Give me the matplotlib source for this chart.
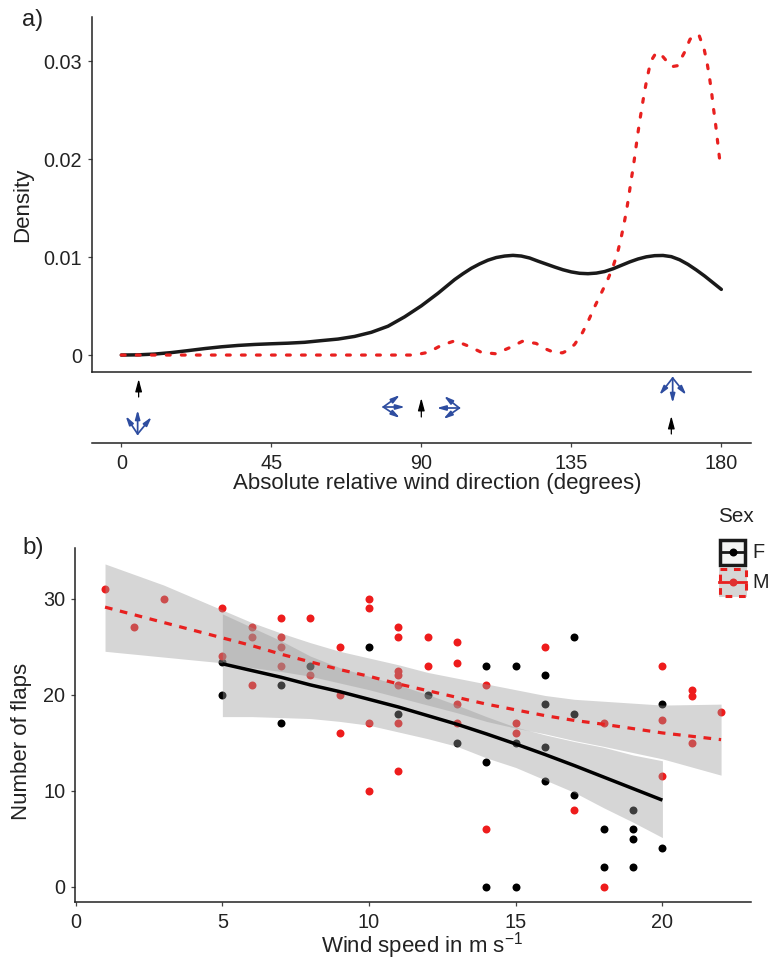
#!/usr/bin/env python3
# Wind direction densities (a) and flap counts against wind speed (b)

import matplotlib
matplotlib.use("Agg")
import matplotlib.pyplot as plt
from matplotlib.patches import Rectangle

plt.rcParams["font.family"] = ["Liberation Sans", "DejaVu Sans"]
plt.rcParams["mathtext.default"] = "regular"

W, H = 769, 960
BLACK = "#1a1a1a"
RED = "#e8201f"
BLUE = "#2e4da0"
TEXT = "#222222"
FS = 14.3
TITLE_FS = 16

# a) density curves
dir_f = [0, 5, 10, 15, 20, 25, 30, 35, 40, 45, 50, 55, 60, 65, 70, 75, 80, 85, 90, 95, 100, 102.5,
         105, 107.5, 110, 112.5, 115, 117.5, 120, 122.5, 125, 127.5, 130, 132.5, 135, 137.5, 140,
         142.5, 145, 147.5, 150, 152.5, 155, 157.5, 160, 162.5, 165, 167.5, 170, 172.5, 175, 177.5, 180]
dens_f = [0, 0.00002, 0.0001, 0.00025, 0.00045, 0.00066, 0.00084, 0.00098, 0.00108, 0.00115, 0.00121,
          0.0013, 0.00147, 0.00163, 0.0019, 0.00232, 0.00294, 0.0039, 0.00502, 0.0063, 0.0077, 0.0083,
          0.00885, 0.0093, 0.00968, 0.00995, 0.0101, 0.01017, 0.0101, 0.0099, 0.00958, 0.00928, 0.00898,
          0.0087, 0.00848, 0.00834, 0.0083, 0.00836, 0.00852, 0.0088, 0.00915, 0.0095, 0.0098,
          0.01002, 0.01014, 0.01016, 0.01004, 0.00972, 0.00925, 0.00868, 0.00806, 0.00738, 0.0067]
dir_m = [0, 30, 60, 87.9, 92.1, 96, 100.1, 104.1, 108, 112.3, 116.4, 120.3, 124.4, 127.6, 130.1,
         132.4, 134.1, 136, 138.4, 140.3, 142.1, 144, 145.9, 147.5, 148.9, 149.9, 150.8, 151.6,
         152.3, 152.9, 153.6, 154.2, 154.8, 155.4, 156.1, 156.8, 157.6, 158.5, 159.4, 160.4,
         161.6, 163.5, 165.1, 166.8, 168.9, 170.6, 172.1, 173.4, 174.9, 175.8, 176.5, 177.1,
         177.6, 178.2, 178.7, 179.2, 179.7, 180]
dens_m = [0, 0, 0, 0, 0.00028, 0.00099, 0.00146, 0.00092, 0.00028, 0.00013, 0.00074, 0.0014, 0.00119,
          0.00058, 0.00023, 0.00023, 0.00051, 0.00109, 0.00232, 0.00364, 0.005, 0.00633, 0.00768,
          0.00901, 0.01048, 0.01191, 0.01337, 0.01483, 0.01633, 0.01776, 0.01921, 0.02071, 0.02221,
          0.02364, 0.0251, 0.02656, 0.02803, 0.02946, 0.03028, 0.03082, 0.03079, 0.03003, 0.02942,
          0.02952, 0.03085, 0.03221, 0.03272, 0.03255, 0.03112, 0.02966, 0.0282, 0.02673, 0.02528,
          0.02378, 0.02232, 0.02082, 0.01936, 0.019]

# arrows under panel a: bird heading (black), wind fans (blue)
bird_x = [5.2, 90, 165]
bird_y = [[46, 64], [26, 45], [9, 27]]
fan_origin_x = [4.9, 78.6, 101.4, 165.4]
fan_origin_y = [9, 36, 35, 65]
fan_head_x = [[4.9, 1.3, 9.1], [85.1, 83.6, 83.6], [94.6, 96.8, 96.6], [165.4, 161.4, 169.5]]
fan_head_y = [[33, 27, 26], [36, 48, 25], [35, 47, 24], [40, 48, 48]]

# b) points
speed_f = [5, 5, 7, 7, 8, 10, 11, 12, 13, 14, 14, 14, 15, 15, 15, 16, 16, 16, 16, 17, 17, 17,
           18, 18, 19, 19, 19, 19, 20, 20]
flaps_f = [23.4, 20, 21, 17, 23, 25, 18, 20, 15, 23, 13, 0, 23, 15, 0, 22, 19, 14.5, 11, 26, 18,
           9.5, 6, 2, 8, 6, 5, 2, 19, 4]
speed_m = [1, 2, 3, 5, 5, 6, 6, 6, 7, 7, 7, 7, 8, 8, 9, 9, 9, 10, 10, 10, 10, 11, 11, 11, 11, 11,
           11, 11, 12, 12, 13, 13, 13, 13, 14, 14, 15, 15, 16, 17, 18, 18, 20, 20, 20, 21, 21, 21, 22]
flaps_m = [31, 27, 30, 29, 24, 27, 26, 21, 28, 26, 25, 23, 28, 22, 25, 20, 16, 30, 29, 17, 10, 27,
           26, 22.5, 22, 21, 17, 12, 26, 23, 25.5, 23.3, 19, 17, 21, 6, 17, 16, 25, 8, 17, 0, 23,
           17.3, 11.5, 20.5, 19.8, 15, 18.2]

# b) fitted lines and ribbons
fit_x_f = [5, 6, 7, 8, 9, 10, 11, 12, 13, 14, 15, 16, 17, 18, 19, 20]
fit_f = [23.2, 22.5, 21.8, 21, 20.3, 19.5, 18.7, 17.8, 16.9, 15.9, 14.85, 13.75, 12.6, 11.4, 10.2, 9.0]
upper_f = [28.4, 27.0, 25.6, 24.0, 22.8, 21.9, 21, 20, 18.9, 17.7, 16.6, 15.8, 15.1, 14.5, 13.7, 13.1]
lower_f = [17.7, 17.7, 17.6, 17.5, 17.2, 16.8, 16.1, 15.4, 14.6, 13.4, 12.4, 11.1, 9.8, 8.2, 6.7, 5.1]
fit_x_m = [1, 3, 5, 6, 7, 8, 9, 10, 11, 12, 13, 14, 15, 16, 17, 18, 20, 22]
fit_m = [29.1, 27.5, 25.9, 25.1, 24.2, 23.4, 22.6, 21.9, 21.1, 20.4, 19.7, 19, 18.4, 17.8, 17.3, 16.9, 16, 15.3]
upper_m = [33.6, 31.4, 28.8, 27.5, 26.4, 25.4, 24.5, 23.8, 23.1, 22.3, 21.7, 21.1, 20.5, 19.9, 19.5, 19.3, 18.9, 19]
lower_m = [24.5, 23.9, 23.3, 22.8, 22.4, 21.9, 21.2, 20.5, 19.7, 18.9, 18.1, 17.2, 16.5, 15.9, 15.2, 14.6, 13.3, 11.6]

ticks_dir = [0, 45, 90, 135, 180]
ticks_dens = [0, 0.01, 0.02, 0.03]
labels_dens = ["0", "0.01", "0.02", "0.03"]
ticks_speed = [0, 5, 10, 15, 20]
ticks_flaps = [0, 10, 20, 30]


def box(left, top, right, bottom):
    return [left / W, 1 - bottom / H, (right - left) / W, (bottom - top) / H]


def style(ax):
    for s in ["top", "right"]:
        ax.spines[s].set_visible(False)
    for s in ["left", "bottom"]:
        ax.spines[s].set_linewidth(1.1)
        ax.spines[s].set_color("#222222")
    ax.tick_params(labelsize=FS, length=3.2, width=0.9, color="#444444", labelcolor=TEXT, pad=3.5)


def label(x, y, s, **kw):
    kw.setdefault("fontsize", TITLE_FS)
    kw.setdefault("ha", "center")
    kw.setdefault("va", "center")
    fig.text(x / W, 1 - y / H, s, color=TEXT, **kw)


fig = plt.figure(figsize=(W / 100, H / 100), dpi=100)

# panel a
ax = fig.add_axes(box(91.5, 17, 751, 372))
style(ax)
ax.plot(dir_f, dens_f, color=BLACK, lw=2.5, solid_capstyle="round")
ax.plot(dir_m, dens_m, color=RED, lw=2.3, ls=(0, (1.2, 3.5)), dash_capstyle="round")
ax.set_xlim(-8.94, 188.9)
ax.set_ylim(-0.00173, 0.03449)
ax.set_yticks(ticks_dens, labels_dens)
ax.set_xticks([])

# arrow strip
strip = fig.add_axes(box(91.5, 372, 751, 443))
style(strip)
strip.spines["left"].set_visible(False)
strip.patch.set_alpha(0)
strip.set_xlim(-8.94, 188.9)
strip.set_ylim(0, 71)
strip.set_yticks([])
strip.set_xticks(ticks_dir)
strip.tick_params(axis="x", pad=4.5)
for x, (y0, y1) in zip(bird_x, bird_y):
    strip.annotate("", xy=(x, y1), xytext=(x, y0),
                   arrowprops=dict(arrowstyle="-|>,head_length=0.75,head_width=0.2", mutation_scale=10,
                                   color="black", lw=0.9, shrinkA=0, shrinkB=0))
for ox, oy, hx, hy in zip(fan_origin_x, fan_origin_y, fan_head_x, fan_head_y):
    for x, y in zip(hx, hy):
        strip.annotate("", xy=(x, y), xytext=(ox, oy),
                       arrowprops=dict(arrowstyle="-|>,head_length=0.65,head_width=0.18", mutation_scale=8,
                                       color=BLUE, lw=1.25, shrinkA=0, shrinkB=0))

# panel b
bx = fig.add_axes(box(74.7, 548, 751, 902.3))
style(bx)
bx.scatter(speed_f, flaps_f, s=33, color="black", linewidths=0, zorder=2)
bx.scatter(speed_m, flaps_m, s=33, color="#ee1c1c", linewidths=0, zorder=2)
bx.fill_between(fit_x_f, lower_f, upper_f, color="#999999", alpha=0.4, linewidth=0, zorder=3)
bx.fill_between(fit_x_m, lower_m, upper_m, color="#999999", alpha=0.4, linewidth=0, zorder=3)
bx.plot(fit_x_f, fit_f, color="black", lw=2.5, solid_capstyle="butt", zorder=4)
bx.plot(fit_x_m, fit_m, color=RED, lw=2.3, ls=(0, (2.4, 2.4)), dash_capstyle="butt", zorder=4)
bx.set_xlim(-0.034, 23.02)
bx.set_ylim(-1.64, 35.26)
bx.set_xticks(ticks_speed)
bx.set_yticks(ticks_flaps)
bx.tick_params(axis="x", pad=4.8)

# text
label(33, 20, "a)", fontsize=17)
label(33, 548, "b)", fontsize=17.5)
label(22.5, 205, "Density", rotation=90)
label(21.5, 741, "Number of flaps", rotation=90)
label(437, 483.5, "Absolute relative wind direction (degrees)")
label(422, 946, "Wind speed in m s$^{-1}$")
label(736, 517, "Sex", fontsize=14.9)
label(752, 552, "F", ha="left", fontsize=FS)
label(752, 582, "M", ha="left", fontsize=FS)

# legend keys, drawn by hand as the original sits against the right edge
leg = fig.add_axes([0, 0, 1, 1])
leg.set_xlim(0, W)
leg.set_ylim(H, 0)
leg.axis("off")
leg.patch.set_alpha(0)
leg.add_patch(Rectangle((720, 539.5), 25, 25, facecolor="#f4f5f4", edgecolor=BLACK, linewidth=2.5))
leg.plot([720, 745], [552, 552], color=BLACK, lw=2)
leg.scatter([732.5], [552], s=33, color="black", linewidths=0, zorder=3)
leg.add_patch(Rectangle((718.5, 568), 28, 29, facecolor="#d6d6d5", edgecolor="none"))
leg.add_patch(Rectangle((719.5, 569), 26, 27, facecolor="none", edgecolor=RED, linewidth=2.2,
                        ls=(0, (2.2, 2.2))))
leg.plot([719, 746], [582, 582], color=RED, lw=2)
leg.scatter([732.5], [582], s=33, color="#e03030", linewidths=0, zorder=3)

fig.savefig("out.png", dpi=100)
